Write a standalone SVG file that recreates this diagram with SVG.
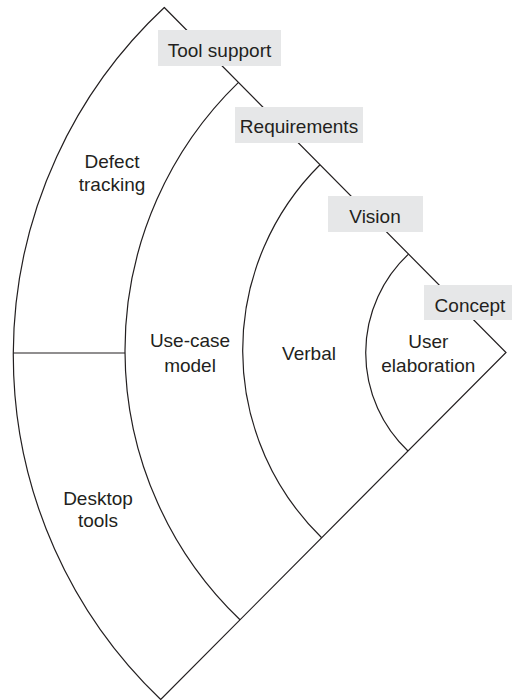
<svg xmlns="http://www.w3.org/2000/svg" width="512" height="700" viewBox="0 0 512 700">
  <style>
    .ln { fill: none; stroke: #231f20; stroke-width: 1.2; stroke-linejoin: miter; }
    .box { fill: #e6e7e8; }
    .t { font-family: "Liberation Sans", Arial, sans-serif; font-size: 19px; fill: #231f20; text-anchor: middle; }
  </style>
  <rect width="512" height="700" fill="#ffffff"/>
  <g id="connectors">
    <path class="ln" d="M 164.3 7.5 L 506 352.5 L 160.7 699.5 A 475.8 475.8 0 0 1 164.3 7.5 Z"/>
    <path class="ln" d="M 238.5 82.4 A 373.1 373.1 0 0 0 240 619.8"/>
    <path class="ln" d="M 320 164.7 A 261.6 261.6 0 0 0 321.7 537.7"/>
    <path class="ln" d="M 408.5 254.1 A 135.2 135.2 0 0 0 408 451"/>
    <path class="ln" d="M 13.3 353 L 125 353"/>
  </g>
  <g id="defect-tracking">
    <text class="t" x="112" y="168.3">Defect</text>
    <text class="t" x="112" y="190.7">tracking</text>
  </g>
  <g id="desktop-tools">
    <text class="t" x="98" y="505">Desktop</text>
    <text class="t" x="98" y="527">tools</text>
  </g>
  <g id="use-case-model">
    <text class="t" x="190" y="347.3">Use-case</text>
    <text class="t" x="190" y="371.7">model</text>
  </g>
  <g id="verbal">
    <text class="t" x="309" y="360">Verbal</text>
  </g>
  <g id="user-elaboration">
    <text class="t" x="428.3" y="348.3">User</text>
    <text class="t" x="428.3" y="371.7">elaboration</text>
  </g>
  <g id="tool-support">
    <rect class="box" x="158" y="30" width="123" height="36"/>
    <text class="t" x="219.5" y="56.5">Tool support</text>
  </g>
  <g id="requirements">
    <rect class="box" x="235" y="107" width="128" height="36"/>
    <text class="t" x="299" y="133">Requirements</text>
  </g>
  <g id="vision">
    <rect class="box" x="328" y="196" width="95" height="36"/>
    <text class="t" x="375" y="223">Vision</text>
  </g>
  <g id="concept">
    <rect class="box" x="424" y="285" width="88" height="35"/>
    <text class="t" x="470" y="311.5">Concept</text>
  </g>
</svg>
